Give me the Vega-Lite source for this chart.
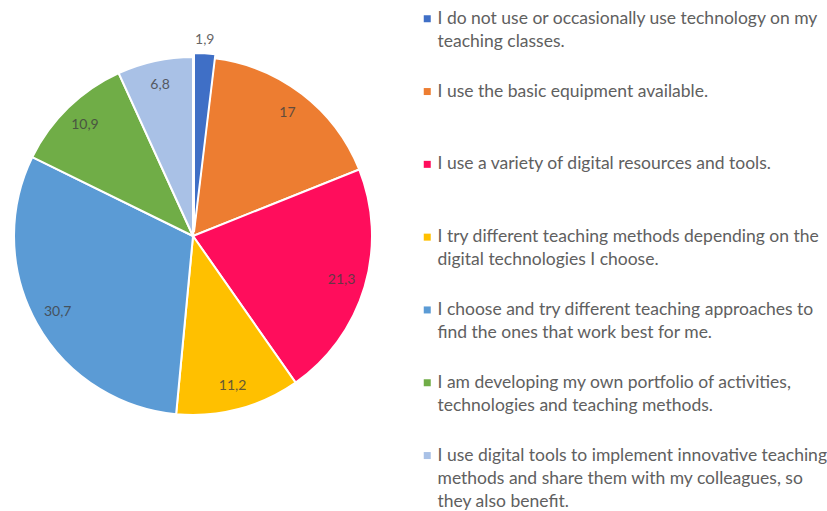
{
  "$schema": "https://vega.github.io/schema/vega-lite/v6.json",
  "width": 386,
  "height": 472,
  "padding": 0,
  "autosize": {"type": "pad"},
  "background": "white",
  "config": {"view": {"stroke": null}, "font": "Lato", "style": {"guide-label": {"lineHeight": 23, "dy": -9}}},
  "data": {
    "values": [
      {"order": 1, "value": 1.9, "label": "1,9", "cat": "I do not use or occasionally use technology on my\nteaching classes."},
      {"order": 2, "value": 17, "label": "17", "cat": "I use the basic equipment available."},
      {"order": 3, "value": 21.3, "label": "21,3", "cat": "I use a variety of digital resources and tools."},
      {"order": 4, "value": 11.2, "label": "11,2", "cat": "I try different teaching methods depending on the\ndigital technologies I choose."},
      {"order": 5, "value": 30.7, "label": "30,7", "cat": "I choose and try different teaching approaches to\nfind the ones that work best for me."},
      {"order": 6, "value": 10.9, "label": "10,9", "cat": "I am developing my own portfolio of activities,\ntechnologies and teaching methods."},
      {"order": 7, "value": 6.8, "label": "6,8", "cat": "I use digital tools to implement innovative teaching\nmethods and share them with my colleagues, so\nthey also benefit."}
    ]
  },
  "transform": [
    {"stack": "value", "groupby": [], "sort": [{"field": "order", "order": "ascending"}], "as": ["v0", "v1"]},
    {"calculate": "(datum.v0 + datum.v1) / 2", "as": "mid"}
  ],
  "layer": [
    {
      "transform": [{"filter": "datum.order != 1"}],
      "mark": {"type": "arc", "radius": 179, "stroke": "white", "strokeWidth": 2},
      "encoding": {
        "theta": {"field": "v0", "type": "quantitative", "scale": {"domain": [0, 99.8], "range": [0, 6.283185307]}},
        "theta2": {"field": "v1"},
        "color": {
          "field": "cat",
          "type": "nominal",
          "scale": {
            "domain": [
              "I do not use or occasionally use technology on my\nteaching classes.",
              "I use the basic equipment available.",
              "I use a variety of digital resources and tools.",
              "I try different teaching methods depending on the\ndigital technologies I choose.",
              "I choose and try different teaching approaches to\nfind the ones that work best for me.",
              "I am developing my own portfolio of activities,\ntechnologies and teaching methods.",
              "I use digital tools to implement innovative teaching\nmethods and share them with my colleagues, so\nthey also benefit."
            ],
            "range": ["#3F6FC6", "#ED7D31", "#FF0D5C", "#FFC000", "#5B9BD5", "#70AD47", "#A9C1E6"]
          },
          "legend": {
            "orient": "none",
            "legendX": 418.5,
            "legendY": 10,
            "title": null,
            "padding": 0,
            "symbolType": "square",
            "symbolSize": 49,
            "symbolStrokeWidth": 0,
            "labelFont": "Lato",
            "labelFontSize": 17.5,
            "labelColor": "#606060",
            "labelOffset": 1.5,
            "labelBaseline": "top",
            "labelLimit": 500,
            "rowPadding": 7.8,
            "labelExpr": "slice(split(datum.label + '\\n \\n ', '\\n'), 0, 3)",
            "encode": {"labels": {"update": {"dy": {"value": -9}, "lineHeight": {"value": 23}}}}
          }
        }
      }
    },
    {
      "transform": [{"filter": "datum.order == 1"}],
      "mark": {"type": "arc", "radius": 179, "stroke": "white", "strokeWidth": 2, "yOffset": -4, "xOffset": 1, "color": "#3F6FC6"},
      "encoding": {
        "theta": {"field": "v0", "type": "quantitative", "scale": {"domain": [0, 99.8], "range": [0, 6.283185307]}},
        "theta2": {"field": "v1"}
      }
    },
    {
      "transform": [{"filter": "datum.order != 1"}],
      "mark": {"type": "text", "radius": 155, "fontSize": 14, "font": "Lato", "fill": "#404040", "opacity": 0.8},
      "encoding": {
        "theta": {"field": "mid", "type": "quantitative", "scale": {"domain": [0, 99.8], "range": [0, 6.283185307]}},
        "text": {"field": "label", "type": "nominal"}
      }
    },
    {
      "transform": [{"filter": "datum.order == 1"}],
      "mark": {"type": "text", "radius": 196, "fontSize": 14, "font": "Lato", "fill": "#404040", "opacity": 0.8},
      "encoding": {
        "theta": {"field": "mid", "type": "quantitative", "scale": {"domain": [0, 99.8], "range": [0, 6.283185307]}},
        "text": {"field": "label", "type": "nominal"}
      }
    }
  ]
}
